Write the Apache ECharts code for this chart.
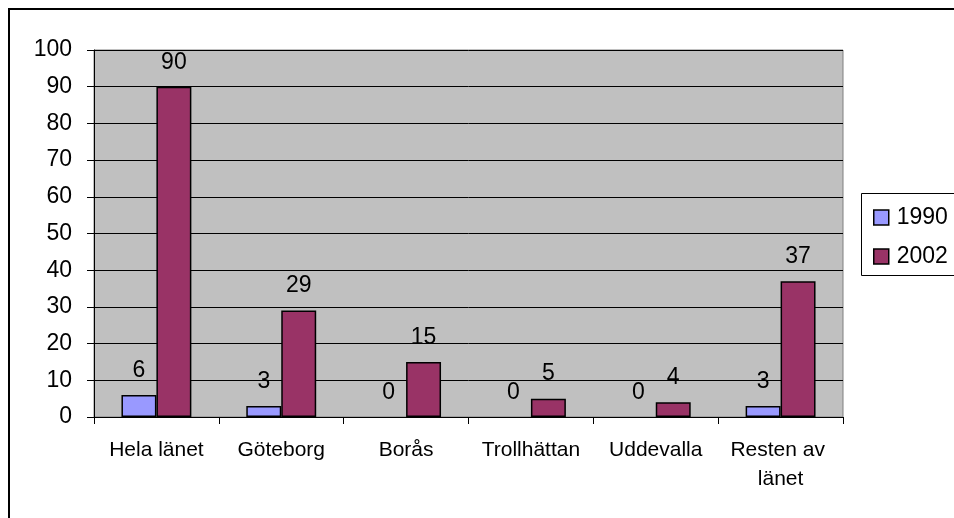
<!DOCTYPE html>
<html><head><meta charset="utf-8">
<script src="https://cdn.jsdelivr.net/npm/echarts@6/dist/echarts.min.js"></script>
<style>html,body{margin:0;padding:0;background:#fff;}#c{width:954px;height:518px;}</style>
</head><body><div id="c"></div>
<script>
var categories = ['Hela länet', 'Göteborg', 'Borås', 'Trollhättan', 'Uddevalla', 'Resten av länet'];
var values1990 = [6, 3, 0, 0, 0, 3];
var values2002 = [90, 29, 15, 5, 4, 37];
var seriesNames = ['1990', '2002'];

var FONT = 'Liberation Sans, Arial, sans-serif';
var FS = 21;
var NFS = 23;
var chart = echarts.init(document.getElementById('c'), null, {renderer: 'canvas'});
var labelCfg = {show: true, position: 'top', distance: 13, color: '#000', fontFamily: FONT, fontSize: NFS};
function toData(arr) {
  return arr.map(function (v) {
    return v === 0 ? {value: v, itemStyle: {borderWidth: 0, opacity: 0}, label: {opacity: 1}} : v;
  });
}
chart.setOption({
  animation: false,
  backgroundColor: '#fff',
  graphic: [
    {type: 'rect', shape: {x: 9, y: 9, width: 1100, height: 1100}, style: {fill: 'none', stroke: '#000', lineWidth: 2}, z: 100},
    {type: 'rect', shape: {x: 861.5, y: 193.5, width: 200, height: 82}, style: {fill: '#fff', stroke: '#000', lineWidth: 1}, z: 1}
  ],
  grid: {left: 94, right: 111, top: 50, bottom: 101, show: true, backgroundColor: '#C0C0C0', borderColor: '#808080', borderWidth: 1},
  legend: {
    orient: 'vertical', left: 868, top: 201, itemWidth: 15, itemHeight: 15, itemGap: 16,
    icon: 'rect', data: seriesNames,
    itemStyle: {borderColor: '#000', borderWidth: 1.5},
    textStyle: {color: '#000', fontFamily: FONT, fontSize: NFS, padding: [0, 0, 0, 3]},
    z: 5
  },
  xAxis: {
    type: 'category', data: categories,
    axisLine: {lineStyle: {color: '#000', width: 1}},
    axisTick: {show: true, length: 7, lineStyle: {color: '#000'}},
    axisLabel: {color: '#000', fontFamily: FONT, fontSize: FS, margin: 19, interval: 0, width: 118, overflow: 'break', lineHeight: 29}
  },
  yAxis: {
    type: 'value', min: 0, max: 100, interval: 10,
    axisLine: {show: true, lineStyle: {color: '#000', width: 1}},
    axisTick: {show: true, length: 7, lineStyle: {color: '#000'}},
    axisLabel: {color: '#000', fontFamily: FONT, fontSize: NFS, margin: 22},
    splitLine: {show: true, lineStyle: {color: '#000', width: 1}}
  },
  series: [
    {name: seriesNames[0], type: 'bar', data: toData(values1990), barGap: '0%', barCategoryGap: '44%',
     itemStyle: {color: '#9999FF', borderColor: '#000', borderWidth: 1.5}, label: labelCfg},
    {name: seriesNames[1], type: 'bar', data: toData(values2002), barGap: '0%', barCategoryGap: '44%',
     itemStyle: {color: '#993366', borderColor: '#000', borderWidth: 1.5}, label: labelCfg}
  ]
});
</script></body></html>
